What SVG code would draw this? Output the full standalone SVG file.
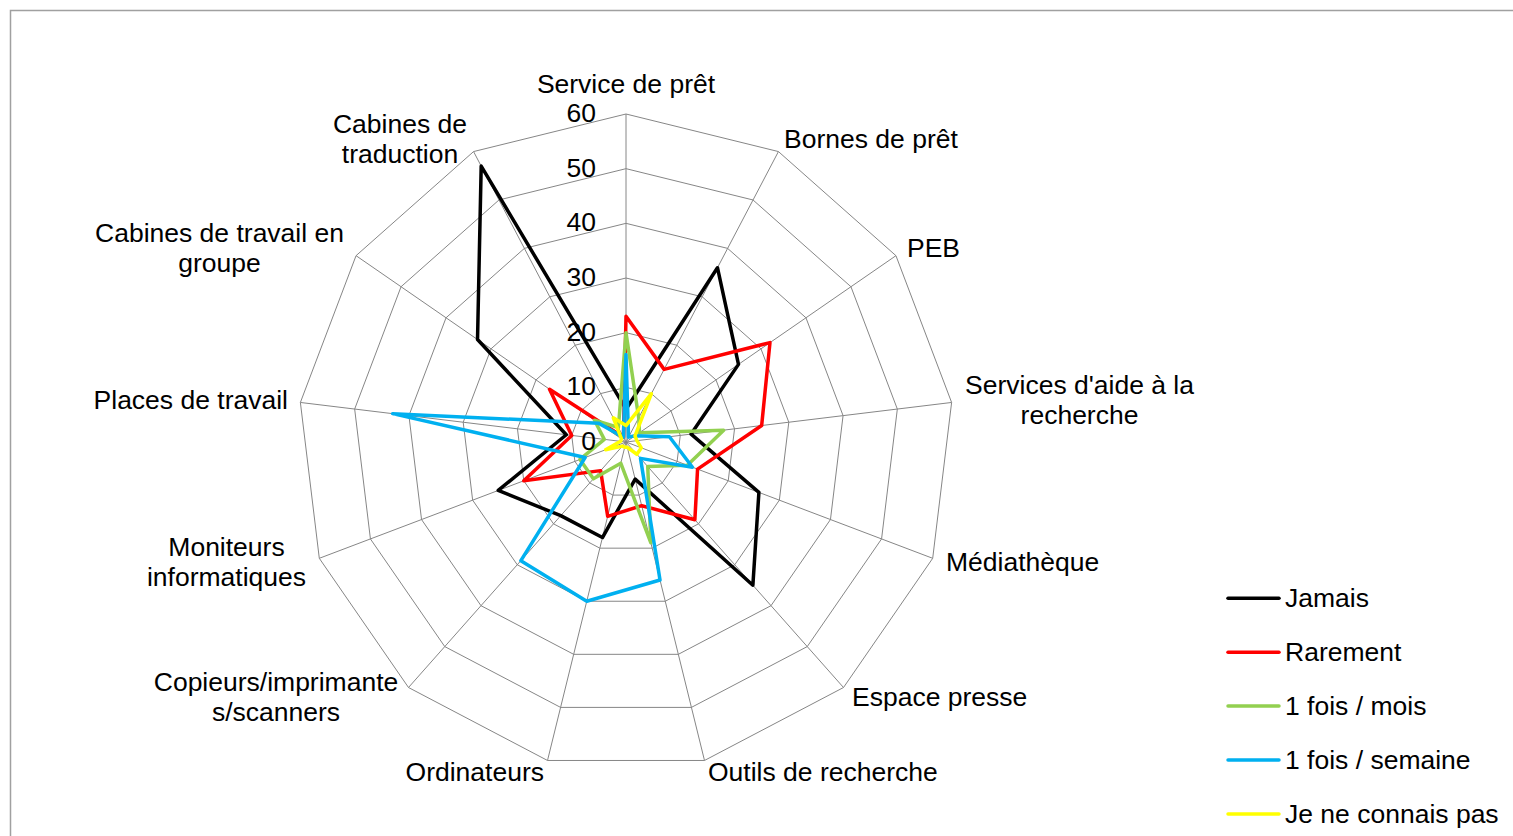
<svg xmlns="http://www.w3.org/2000/svg" xmlns:xlink="http://www.w3.org/1999/xlink" width="1513" height="836" viewBox="0 0 1513 836">
<style>
.t{font-family:"Liberation Sans",Arial,sans-serif;font-size:26.5px;fill:#000}
.m{text-anchor:middle}
.e{text-anchor:end}
.grid{fill:none;stroke:#868686;stroke-width:1;vector-effect:non-scaling-stroke}
.s{fill:none;stroke-width:3.5;stroke-linejoin:round;stroke-linecap:round}
.lg{stroke-width:3.5;stroke-linecap:round}
</style>
<defs>
<polygon id="ring" class="grid" points="0,-328 152.43,-290.43 269.94,-186.32 325.61,-39.54 306.69,116.31 217.50,245.51 78.50,318.47 -78.50,318.47 -217.50,245.51 -306.69,116.31 -325.61,-39.54 -269.94,-186.32 -152.43,-290.43"/>
</defs>
<rect x="0" y="0" width="1513" height="836" fill="#fff"/>
<rect id="frame" x="10.5" y="10.5" width="1530" height="850" fill="none" stroke="#a0a0a0" stroke-width="1.5"/>
<g id="grid" transform="translate(626 442)">
<use xlink:href="#ring" transform="scale(0.166667)"/>
<use xlink:href="#ring" transform="scale(0.333333)"/>
<use xlink:href="#ring" transform="scale(0.5)"/>
<use xlink:href="#ring" transform="scale(0.666667)"/>
<use xlink:href="#ring" transform="scale(0.833333)"/>
<use xlink:href="#ring"/>
<path class="grid" d="M0,0L0,-328M0,0L152.43,-290.43M0,0L269.94,-186.32M0,0L325.61,-39.54M0,0L306.69,116.31M0,0L217.50,245.51M0,0L78.50,318.47M0,0L-78.50,318.47M0,0L-217.50,245.51M0,0L-306.69,116.31M0,0L-325.61,-39.54M0,0L-269.94,-186.32M0,0L-152.43,-290.43"/>
</g>
<g id="series" transform="translate(626 442)">
<polygon id="jamais" class="s" stroke="#000000" points="0,-32.8 91.46,-174.26 112.48,-77.64 65.12,-7.91 132.90,50.40 126.88,143.22 9.16,37.15 -23.55,95.54 -65.25,73.65 -127.79,48.46 -59.69,-7.25 -148.47,-102.48 -144.81,-275.91"/>
<polygon id="rarement" class="s" stroke="#FF0000" points="0,-125.73 38.11,-72.61 143.97,-99.37 135.67,-16.48 71.56,27.14 68.88,77.75 15.70,63.69 -18.32,74.31 -25.38,28.64 -102.23,38.77 -54.27,-6.59 -76.48,-52.79 -2.54,-4.84"/>
<polygon id="mois" class="s" stroke="#92D050" points="0,-109.33 12.70,-24.20 13.50,-9.32 97.68,-11.86 61.34,23.26 21.75,24.55 24.86,100.85 -5.23,21.23 -32.63,36.83 -46.00,17.45 -21.71,-2.64 -31.49,-21.74 -7.62,-14.52"/>
<polygon id="semaine" class="s" stroke="#00B0F0" points="0,-87.47 2.54,-4.84 9.00,-6.21 43.41,-5.27 66.45,25.20 14.50,16.37 34.02,138.00 -39.25,159.23 -105.13,118.67 -40.89,15.51 -233.35,-28.34 -26.99,-18.63 -2.54,-4.84"/>
<polygon id="connaispas" class="s" stroke="#FFFF00" points="0,-16.40 25.40,-48.41 9.00,-6.21 10.85,-1.32 15.33,5.82 10.88,12.28 1.31,5.31 -1.31,5.31 -3.63,4.09 -20.45,7.75 -5.43,-0.66 -4.50,-3.11 -12.70,-24.20"/>
</g>
<g id="ticks" class="t e">
<text x="596" y="450">0</text>
<text x="596" y="395.3">10</text>
<text x="596" y="340.7">20</text>
<text x="596" y="286">30</text>
<text x="596" y="231.3">40</text>
<text x="596" y="176.7">50</text>
<text x="596" y="122">60</text>
</g>
<g id="categories" class="t">
<text class="m" x="626" y="93">Service de prêt</text>
<text x="784" y="148">Bornes de prêt</text>
<text x="907" y="256.5">PEB</text>
<text class="m" x="1079.5" y="393.5">Services d'aide à la</text>
<text class="m" x="1079.5" y="423.5">recherche</text>
<text x="946" y="570.5">Médiathèque</text>
<text x="852" y="706">Espace presse</text>
<text x="708" y="781">Outils de recherche</text>
<text class="e" x="544" y="781">Ordinateurs</text>
<text class="m" x="276" y="691">Copieurs/imprimante</text>
<text class="m" x="276" y="721">s/scanners</text>
<text class="m" x="226.5" y="556">Moniteurs</text>
<text class="m" x="226.5" y="586">informatiques</text>
<text class="e" x="288" y="408.5">Places de travail</text>
<text class="m" x="219.5" y="241.5">Cabines de travail en</text>
<text class="m" x="219.5" y="271.5">groupe</text>
<text class="m" x="400" y="133.3">Cabines de</text>
<text class="m" x="400" y="163.3">traduction</text>
</g>
<g id="legend">
<g id="lg-jamais"><line class="lg" x1="1228" y1="598.3" x2="1279" y2="598.3" stroke="#000000"/><text class="t" x="1285" y="607.3">Jamais</text></g>
<g id="lg-rarement"><line class="lg" x1="1228" y1="652.2" x2="1279" y2="652.2" stroke="#FF0000"/><text class="t" x="1285" y="661.2">Rarement</text></g>
<g id="lg-mois"><line class="lg" x1="1228" y1="706.1" x2="1279" y2="706.1" stroke="#92D050"/><text class="t" x="1285" y="715.1">1 fois / mois</text></g>
<g id="lg-semaine"><line class="lg" x1="1228" y1="760" x2="1279" y2="760" stroke="#00B0F0"/><text class="t" x="1285" y="769">1 fois / semaine</text></g>
<g id="lg-connaispas"><line class="lg" x1="1228" y1="813.9" x2="1279" y2="813.9" stroke="#FFFF00"/><text class="t" x="1285" y="822.9">Je ne connais pas</text></g>
</g>
</svg>
